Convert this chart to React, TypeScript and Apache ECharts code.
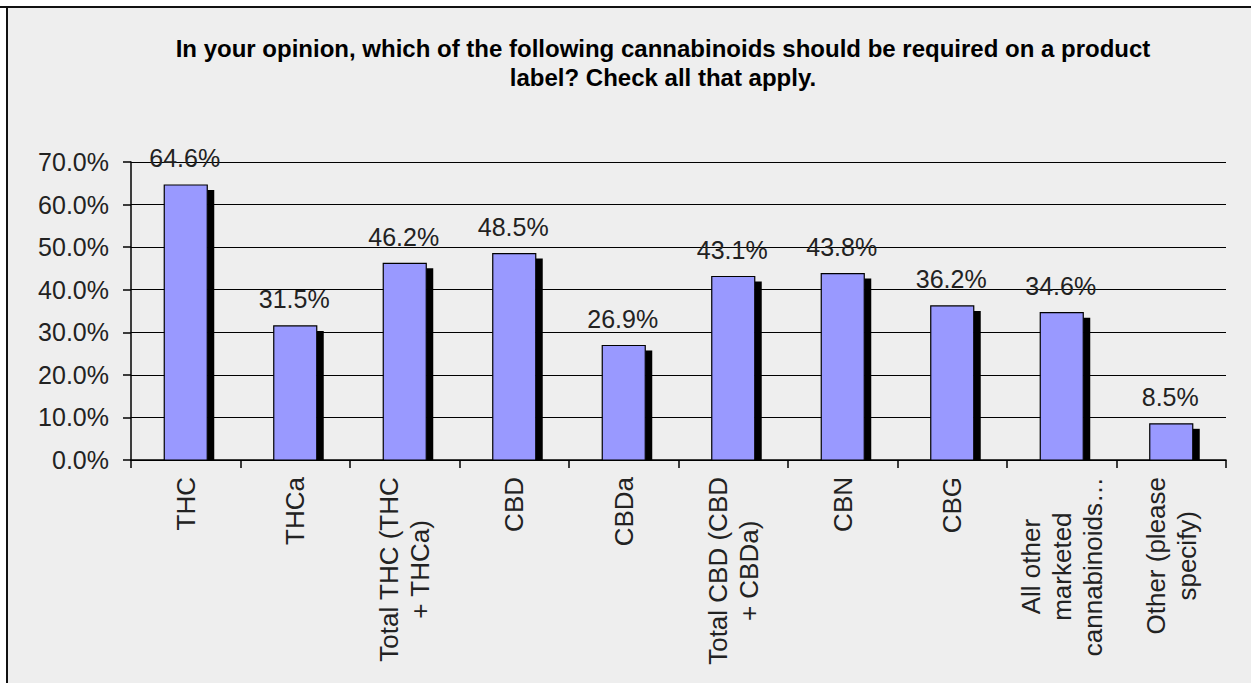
import React, { useEffect, useRef } from "react";
import * as echarts from "echarts";

const titleLines = [
  "In your opinion, which of the following cannabinoids should be required on a product",
  "label? Check all that apply.",
];
const categories = [
  "THC",
  "THCa",
  "Total THC (THC\n+ THCa)",
  "CBD",
  "CBDa",
  "Total CBD (CBD\n+ CBDa)",
  "CBN",
  "CBG",
  "All other\nmarketed\ncannabinoids…",
  "Other (please\nspecify)",
];
const values = [64.6, 31.5, 46.2, 48.5, 26.9, 43.1, 43.8, 36.2, 34.6, 8.5];
const yMin = 0;
const yMax = 70;
const yStep = 10;

const FONT = "'Liberation Sans', Arial, sans-serif";
const TEXT_COLOR = "#222222";
const BAR_COLOR = "#9999ff";

export default function App() {
  const ref = useRef<HTMLDivElement>(null);
  useEffect(() => {
    if (!ref.current) return;
    const chart = echarts.init(ref.current, null, { renderer: "svg" });
    const barW = 43;
    chart.setOption({
      animation: false,
      backgroundColor: "#ffffff",
      graphic: [
        {
          type: "rect",
          z: -10,
          silent: true,
          shape: { x: 7, y: 7, width: 1300, height: 700 },
          style: { fill: "#eeeeee" },
        },
        {
          type: "line",
          z: -9,
          silent: true,
          shape: { x1: 0, y1: 7, x2: 1251, y2: 7 },
          style: { stroke: "#111111", lineWidth: 2 },
        },
        {
          type: "line",
          z: -9,
          silent: true,
          shape: { x1: 7, y1: 7, x2: 7, y2: 683 },
          style: { stroke: "#111111", lineWidth: 2 },
        },
      ],
      title: {
        text: titleLines.join("\n"),
        left: 658,
        top: 29,
        textAlign: "center",
        textStyle: {
          fontFamily: FONT,
          fontSize: 24,
          fontWeight: "bold",
          color: "#000000",
          lineHeight: 29,
        },
      },
      grid: { left: 131, right: 25, top: 162, bottom: 223, containLabel: false },
      xAxis: {
        type: "category",
        data: categories,
        axisLine: { show: true, lineStyle: { color: "#000000", width: 1.5 } },
        axisTick: { show: true, length: 8, lineStyle: { color: "#000000", width: 1.5 } },
        axisLabel: {
          interval: 0,
          rotate: 90,
          margin: 17,
          formatter: (v: string) =>
            v
              .split("\n")
              .map((l) => "{c|" + l + "}")
              .join("\n"),
          rich: {
            c: {
              align: "center",
              fontFamily: FONT,
              fontSize: 26,
              lineHeight: 31,
              color: TEXT_COLOR,
            },
          },
        },
        splitLine: { show: false },
      },
      yAxis: {
        type: "value",
        min: yMin,
        max: yMax,
        interval: yStep,
        axisLine: { show: true, lineStyle: { color: "#000000", width: 1.5 } },
        axisTick: { show: true, length: 8, lineStyle: { color: "#000000", width: 1.5 } },
        axisLabel: {
          margin: 22,
          fontFamily: FONT,
          fontSize: 25,
          color: TEXT_COLOR,
          formatter: (v: number) => v.toFixed(1) + "%",
        },
        splitLine: { show: true, lineStyle: { color: "#000000", width: 1.2 } },
      },
      series: [
        {
          type: "custom",
          data: values.map((v, i) => [i, v]),
          encode: { x: 0, y: 1 },
          renderItem: (params: any, api: any) => {
            const idx = api.value(0);
            const v = api.value(1);
            const top = api.coord([idx, v]);
            const base = api.coord([idx, 0]);
            const x0 = top[0] - barW / 2;
            const h = base[1] - top[1];
            return {
              type: "group",
              children: [
                {
                  type: "rect",
                  shape: { x: x0 + barW, y: top[1] + 5, width: 7, height: Math.max(0, h - 5) },
                  style: { fill: "#000000" },
                },
                {
                  type: "rect",
                  shape: { x: x0, y: top[1], width: barW, height: h },
                  style: { fill: BAR_COLOR, stroke: "#000000", lineWidth: 1.2 },
                },
                {
                  type: "text",
                  style: {
                    text: v.toFixed(1) + "%",
                    x: top[0] - 1,
                    y: top[1] - 14,
                    align: "center",
                    verticalAlign: "bottom",
                    fontFamily: FONT,
                    fontSize: 25,
                    fill: TEXT_COLOR,
                  },
                },
              ],
            };
          },
        },
      ],
    });
    return () => chart.dispose();
  }, []);
  return (
    <div
      ref={ref}
      style={{ position: "absolute", left: 0, top: 0, width: 1251, height: 683 }}
    />
  );
}
